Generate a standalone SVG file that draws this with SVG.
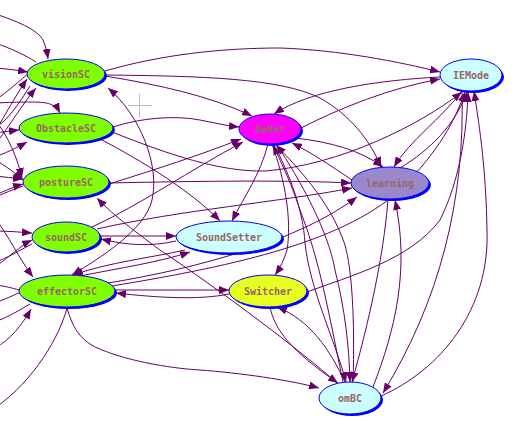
<svg xmlns="http://www.w3.org/2000/svg" width="522" height="434" viewBox="0 0 522 434">
<style>
.e{fill:none;stroke:#660066;stroke-width:1}
.a{marker-end:url(#ah)}
.s{marker-start:url(#as)}
.sh{fill:#0000ff}
.n{stroke:#0000ff;stroke-width:1}
.t{font-family:"DejaVu Sans Mono","Liberation Mono",monospace;font-weight:bold;font-size:10px;fill:#996666;text-anchor:middle}
.g{fill:#80ff00}.c{fill:#ccffff}
</style>
<defs>
<marker id="ah" markerUnits="userSpaceOnUse" markerWidth="10" markerHeight="8" refX="10" refY="4" orient="auto"><path d="M0,0 L10,4 L0,8 z" fill="#660066"/></marker>
<marker id="as" markerUnits="userSpaceOnUse" markerWidth="10" markerHeight="8" refX="10" refY="4" orient="auto-start-reverse"><path d="M0,0 L10,4 L0,8 z" fill="#660066"/></marker>
</defs>
<rect width="522" height="434" fill="#ffffff"/>
<g id="cursor" stroke="#bbbbbb" stroke-width="1"><line x1="139.5" y1="94" x2="139.5" y2="117"/><line x1="128" y1="105.5" x2="152" y2="105.5"/></g>
<g id="connectors">
<path class="e a" d="M-5,14 C15,20 38,30 43,40 C46,47 47,52 48,59"/>
<path class="e" d="M36,62 C25,55 10,48 -5,43"/>
<path class="e a" d="M-5,68 C8,69 16,70 28,72"/>
<path class="e" d="M-5,100 C8,92 20,80 29,73"/>
<path class="e a" d="M-5,132 C5,115 16,95 27,79"/>
<path class="e a" d="M-5,145 C10,125 24,102 36,88"/>
<path class="e a" d="M-5,103 C20,102 42,101 50,104 C55,106 58,109 60,113"/>
<path class="e a" d="M-5,133 C3,132 10,131 19,130"/>
<path class="e a" d="M-5,157 C5,153 15,149 27,142"/>
<path class="e a" d="M-5,120 C8,135 18,160 22,178"/>
<path class="e a" d="M-5,176 C5,177 12,178 23,179"/>
<path class="e a" d="M-5,195 C5,191 13,187 23,184"/>
<path class="e a" d="M-5,160 C6,166 14,172 23,180"/>
<path class="e" d="M23,186 C12,190 5,193 -5,197"/>
<path class="e" d="M30,86 C18,105 8,120 -5,128"/>
<path class="e a" d="M-5,231 C8,231 18,232 32,233"/>
<path class="e a" d="M-5,267 C8,258 20,246 32,240"/>
<path class="e" d="M32,244 C20,250 8,258 -5,262"/>
<path class="e a" d="M-5,218 C8,235 20,260 33,277"/>
<path class="e" d="M-5,285 C5,286 12,288 19,290"/>
<path class="e" d="M-5,303 C5,299 12,296 19,293"/>
<path class="e" d="M-5,322 C8,317 20,310 30,304"/>
<path class="e a" d="M-5,348 C10,340 22,325 31,309"/>
<path class="e" d="M67,308 C60,335 35,380 -5,408"/>
<path class="e a" d="M67,308 C72,325 78,338 95,347 C130,363 180,369 200,370 C240,373 290,380 319,388"/>
<path class="e a" d="M105,71 C160,55 220,48 280,48 C340,50 400,62 440,72"/>
<path class="e a" d="M105,75 C200,76 280,78 320,98 C350,115 370,140 381,167"/>
<path class="e a" d="M105,76 C160,85 210,96 252,116"/>
<path class="e a" d="M440,77 C380,80 310,90 274,114"/>
<path class="e a" d="M301,128 C340,108 390,88 440,79"/>
<path class="e a" d="M113,127 C140,118 175,115 200,120 C215,123 228,126 239,127"/>
<path class="e a" d="M102,140 C140,160 190,190 220,221"/>
<path class="e a" d="M268,144 C260,175 245,195 232,221"/>
<path class="e a" d="M112,132 C170,155 220,172 265,171 C340,165 420,125 462,92"/>
<path class="e a" d="M109,183 C200,181 290,180 351,183"/>
<path class="e a" d="M109,184 C160,168 200,155 241,139"/>
<path class="e a" d="M97,229 C180,210 280,202 352,188"/>
<path class="e a" d="M92,227 C140,205 190,170 243,142"/>
<path class="e a" d="M100,236 L176,236"/>
<path class="e a" d="M176,241 C150,247 125,245 101,239"/>
<path class="e a" d="M80,276 C120,268 160,262 190,252"/>
<path class="e a" d="M185,250 C150,258 110,262 73,275"/>
<path class="e a" d="M115,290 L229,290"/>
<path class="e a" d="M229,294 C200,300 160,298 116,293"/>
<path class="e a" d="M108,283 C200,268 300,240 357,197"/>
<path class="e a" d="M112,286 C220,268 340,245 400,190 C440,150 455,120 465,92"/>
<path class="e a" d="M307,292 C350,276 410,260 440,220 C460,180 467,130 468,92"/>
<path class="e a s" d="M108,88 C140,115 160,165 152,200 C145,230 100,258 72,275"/>
<path class="e a" d="M337,383 C300,350 220,290 160,250 C130,228 110,212 97,198"/>
<path class="e a" d="M272,144 C285,180 292,220 287,250 C284,260 280,268 275,275"/>
<path class="e a" d="M274,145 C290,175 303,210 305,243 C310,290 335,340 346,382"/>
<path class="e a" d="M277,145 C300,180 328,230 335,270 C345,310 349,345 350,382"/>
<path class="e a" d="M353,382 C355,320 352,270 345,245 C330,200 295,165 276,145"/>
<path class="e a" d="M343,382 C330,320 320,260 300,210 C290,180 280,160 273,145"/>
<path class="e a" d="M270,307 C275,330 290,350 338,383"/>
<path class="e a" d="M345,382 C330,350 310,320 277,307"/>
<path class="e a" d="M388,199 C385,240 375,300 352,382"/>
<path class="e a" d="M373,387 C395,330 410,270 395,200"/>
<path class="e a" d="M462,91 C465,200 440,300 383,393"/>
<path class="e a" d="M381,396 C440,370 490,310 487,230 C486,170 480,130 474,91"/>
<path class="e a" d="M463,90 C440,120 410,140 394,167"/>
<path class="e a" d="M400,168 C430,150 455,125 467,92"/>
<path class="e a" d="M295,138 C330,142 360,150 383,167"/>
<path class="e a" d="M352,180 C330,165 310,152 292,143"/>
</g>
<g id="visionSC"><ellipse class="sh" cx="68" cy="76" rx="39" ry="15"/><ellipse class="n g" cx="66" cy="74" rx="39" ry="15"/><text class="t" x="66" y="78">visionSC</text></g>
<g id="ObstacleSC"><ellipse class="sh" cx="68" cy="130" rx="47" ry="15"/><ellipse class="n g" cx="66" cy="128" rx="47" ry="15"/><text class="t" x="66" y="132">ObstacleSC</text></g>
<g id="postureSC"><ellipse class="sh" cx="68" cy="184" rx="43" ry="16"/><ellipse class="n g" cx="66" cy="182" rx="43" ry="16"/><text class="t" x="66" y="186">postureSC</text></g>
<g id="soundSC"><ellipse class="sh" cx="68" cy="239" rx="34" ry="15"/><ellipse class="n g" cx="66" cy="237" rx="34" ry="15"/><text class="t" x="66" y="241">soundSC</text></g>
<g id="effectorSC"><ellipse class="sh" cx="69" cy="293" rx="48" ry="16"/><ellipse class="n g" cx="67" cy="291" rx="48" ry="16"/><text class="t" x="67" y="295">effectorSC</text></g>
<g id="BeNet"><ellipse class="sh" cx="272" cy="131" rx="31" ry="15"/><ellipse class="n" fill="#ff00ff" cx="270" cy="129" rx="31" ry="15"/><text class="t" x="270" y="133">BeNet</text></g>
<g id="IEMode"><ellipse class="sh" cx="473" cy="77" rx="31" ry="16"/><ellipse class="n c" cx="471" cy="75" rx="31" ry="16"/><text class="t" x="471" y="79">IEMode</text></g>
<g id="learning"><ellipse class="sh" cx="392" cy="185" rx="39" ry="16"/><ellipse class="n" fill="#9988cc" cx="390" cy="183" rx="39" ry="16"/><text class="t" x="390" y="187">learning</text></g>
<g id="SoundSetter"><ellipse class="sh" cx="231" cy="239" rx="53" ry="16"/><ellipse class="n c" cx="229" cy="237" rx="53" ry="16"/><text class="t" x="229" y="241">SoundSetter</text></g>
<g id="Switcher"><ellipse class="sh" cx="270" cy="293" rx="39" ry="16"/><ellipse class="n" fill="#e6ff1f" cx="268" cy="291" rx="39" ry="16"/><text class="t" x="268" y="295">Switcher</text></g>
<g id="omBC"><ellipse class="sh" cx="352" cy="400" rx="31" ry="16"/><ellipse class="n c" cx="350" cy="398" rx="31" ry="16"/><text class="t" x="350" y="402">omBC</text></g>
</svg>
